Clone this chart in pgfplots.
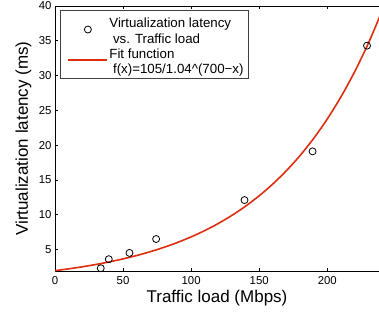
\documentclass[border=0pt]{standalone}
\usepackage{fontspec}
\setmainfont{Liberation Sans}
\usepackage{pgfplots}
\pgfplotsset{compat=1.18}
\definecolor{fitred}{RGB}{222,45,15}
\begin{document}
\begin{tikzpicture}
\useasboundingbox (-55pt,-45pt) rectangle (324pt,271pt);
\begin{axis}[
  scale only axis,
  width=324pt, height=265pt,
  xmin=0, xmax=238, ymin=1.9, ymax=40,
  xtick={0,50,100,150,200},
  ytick={5,10,15,20,25,30,35,40},
  axis x line=box, axis y line=left,
  axis line style={-, line width=0.9pt},
  tick align=inside,
  major tick length=3pt,
  tick style={black, line width=0.6pt},
  /pgf/number format/assume math mode=true,
  tick label style={font=\fontsize{11.4}{12}\selectfont},
  xticklabel style={yshift=-2pt},
  xlabel={Traffic load (Mbps)},
  ylabel={Virtualization latency (ms)},
  xlabel style={at={(axis description cs:0.5,-0.1019)}, anchor=center},
  ylabel style={at={(axis description cs:-0.0972,0.5)}, anchor=center},
  label style={font=\fontsize{17}{19}\selectfont},
  legend cell align=left,
  legend style={at={(0.0154,0.985)}, anchor=north west,
    font=\fontsize{13.3}{15.5}\selectfont, draw=black!75, line width=0.8pt,
    inner xsep=3pt, inner ysep=2pt, row sep=-3pt,
    /tikz/every odd column/.append style={column sep=0pt},
    nodes={inner xsep=2pt, inner ysep=0pt, text height=15.5pt, text depth=2.8pt}},
  clip=true,
]
\addplot[only marks, mark=o, mark size=3.5pt, black, line width=0.8pt,
  legend image code/.code={\path[draw=none, fill=none] (-5pt,0pt) -- (39pt,0pt);
    \draw[overlay, black, line width=0.8pt, mark=o, mark size=3.5pt] plot coordinates {(19.5pt,-8pt)};}] coordinates {
  (33.6,2.3) (39.5,3.6) (54.7,4.5) (74.3,6.5) (139.2,12.1) (189.2,19.1) (229.2,34.3)
};
\addlegendentry{Virtualization latency}
\addlegendimage{legend image code/.code={\path[draw=none, fill=none] (-5pt,0pt) -- (39pt,0pt);}}
\addlegendentry{\ vs. Traffic load}
\addplot[fitred, line width=1.6pt, smooth,
  legend image code/.code={\path[draw=none, fill=none] (-5pt,0pt) -- (39pt,0pt);
    \draw[overlay, fitred, line width=1.6pt] (0pt,-8pt) -- (39pt,-8pt);}] coordinates {
  (0,1.950) (10,2.210) (20,2.504) (30,2.837) (40,3.215) (50,3.643) (60,4.128)
  (70,4.678) (80,5.301) (90,6.006) (100,6.806) (110,7.712) (120,8.739)
  (130,9.903) (140,11.221) (150,12.716) (160,14.409) (170,16.327) (180,18.501)
  (190,20.964) (200,23.756) (210,26.919) (220,30.503) (230,34.565) (240,39.167)
};
\addlegendentry{Fit function}
\addlegendimage{legend image code/.code={\path[draw=none, fill=none] (-5pt,0pt) -- (39pt,0pt);}}
\addlegendentry{\ f(x)=105/1.04\textasciicircum(700−x)}
\end{axis}
\end{tikzpicture}
\end{document}
